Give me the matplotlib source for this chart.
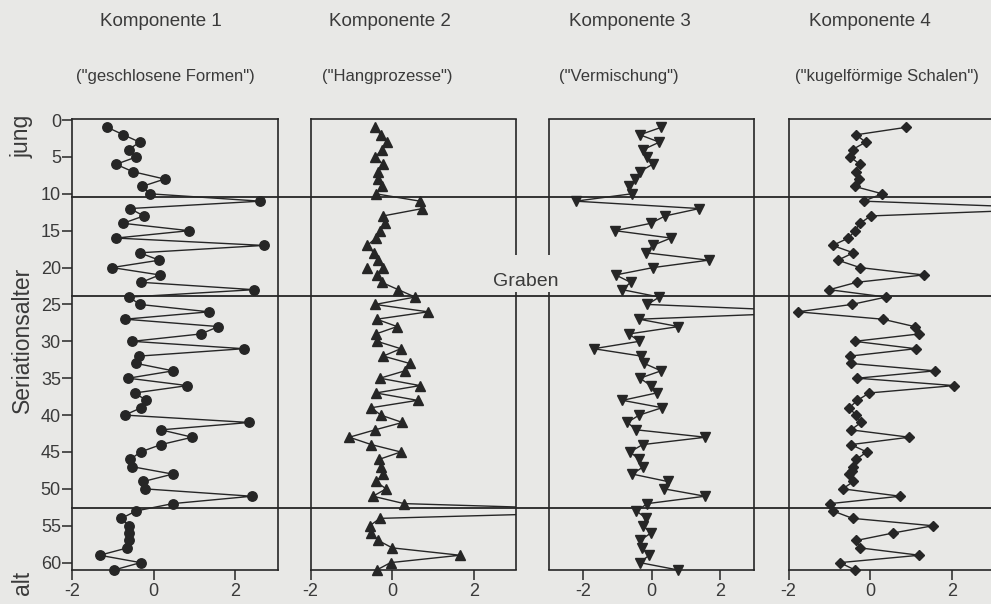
import numpy as np
import matplotlib
matplotlib.use('Agg')
from matplotlib import pyplot as plt
from matplotlib.transforms import blended_transform_factory

plt.rcParams['font.family'] = ['Liberation Sans', 'DejaVu Sans']
plt.rcParams['axes.unicode_minus'] = False

# seriation age (one sample per step)
age = np.arange(1, 62)

k1 = [-1.13, -0.74, -0.34, -0.61, -0.42, -0.92, -0.51, 0.27, -0.28, -0.09,
      2.62, -0.58, -0.24, -0.75, 0.87, -0.92, 2.70, -0.34, 0.14, -1.02,
      0.15, -0.30, 2.46, -0.60, -0.34, 1.36, -0.70, 1.59, 1.16, -0.52,
      2.21, -0.35, -0.42, 0.48, -0.62, 0.83, -0.46, -0.18, -0.30, -0.71,
      2.35, 0.18, 0.95, 0.18, -0.32, -0.57, -0.52, 0.47, -0.25, -0.22,
      2.41, 0.47, -0.43, -0.79, -0.60, -0.60, -0.60, -0.64, -1.32, -0.32,
      -0.97]

k2 = [-0.42, -0.28, -0.12, -0.24, -0.42, -0.22, -0.36, -0.34, -0.24, -0.40,
      0.68, 0.74, -0.22, -0.18, -0.30, -0.40, -0.61, -0.45, -0.34, -0.22,
      -0.38, -0.26, 0.15, 0.56, -0.42, 0.88, -0.38, 0.12, -0.40, -0.37,
      0.21, -0.22, 0.43, 0.31, -0.30, 0.68, -0.40, 0.62, -0.51, -0.28,
      0.25, -0.42, -1.05, -0.51, 0.21, -0.32, -0.28, -0.22, -0.40, -0.15,
      -0.47, 0.29, 6.3, -0.30, -0.55, -0.51, -0.34, 0.0, 1.66, -0.04,
      -0.38]
# single unconnected triangle near age 20
k2_extra_x = [-0.61]
k2_extra_age = [20]

k3 = [0.28, -0.34, 0.23, -0.24, -0.14, 0.03, -0.34, -0.48, -0.66, -0.58,
      -2.22, 1.40, 0.40, -0.02, -1.07, 0.57, 0.03, -0.16, 1.67, 0.05,
      -1.05, -0.61, -0.85, 0.23, -0.12, 5.1, -0.36, 0.79, -0.66, -0.36,
      -1.69, -0.30, -0.21, 0.28, -0.34, -0.02, 0.15, -0.85, 0.31, -0.36,
      -0.71, -0.44, 1.58, -0.26, -0.63, -0.36, -0.24, -0.56, 0.47, 0.37,
      1.57, -0.12, -0.44, -0.16, -0.24, -0.02, -0.34, -0.28, -0.07, -0.34,
      0.78]

age4 = np.insert(age.astype(float), 47, 47.6)
k4 = [0.87, -0.34, -0.11, -0.43, -0.49, -0.25, -0.35, -0.26, -0.38, 0.30,
      -0.16, 4.8, 0.02, -0.25, -0.37, -0.53, -0.92, -0.41, -0.79, -0.25,
      1.31, -0.33, -1.00, 0.39, -0.45, -1.77, 0.31, 1.09, 1.20, -0.38,
      1.12, -0.49, -0.47, 1.59, -0.31, 2.06, -0.02, -0.31, -0.51, -0.35,
      -0.22, -0.47, 0.96, -0.47, -0.08, -0.34, -0.41, -0.45, -0.51, -0.41,
      -0.67, 0.74, -0.98, -0.91, -0.43, 1.54, 0.55, -0.34, -0.25, 1.21,
      -0.74, -0.37]

boundaries = [10.5, 23.9, 52.6]

titles = ['Komponente 1', 'Komponente 2', 'Komponente 3', 'Komponente 4']
subtitles = ['("geschlosene Formen")', '("Hangprozesse")', '("Vermischung")',
             '("kugelförmige Schalen")']

bg = '#e8e8e6'
ink = '#262626'
txt = '#3a3a3a'
W, H = 991, 604
ylim = (61.0, -0.14)

fig = plt.figure(figsize=(W / 100, H / 100), dpi=100, facecolor=bg)


def px_box(x0, y0, x1, y1):
    return [x0 / W, 1 - y1 / H, (x1 - x0) / W, (y1 - y0) / H]


ax1 = fig.add_axes(px_box(72, 119, 278, 570))
ax2 = fig.add_axes(px_box(310.5, 119, 516, 570))
ax3 = fig.add_axes(px_box(549, 119, 754, 570))
ax4 = fig.add_axes(px_box(788.5, 119, 994.5, 570))
axes = [ax1, ax2, ax3, ax4]
xlims = [(-2, 3.05), (-2, 3.03), (-3, 3), (-2, 3.05)]

for ax, xl in zip(axes, xlims):
    ax.set_facecolor('none')
    ax.set_xlim(xl)
    ax.set_ylim(ylim)
    ax.set_xticks([-2, 0, 2])
    ax.tick_params(axis='x', direction='out', length=7, width=1.1, pad=2,
                   labelsize=13, labelcolor=txt, color=ink)
    for s in ax.spines.values():
        s.set_color(ink)
        s.set_linewidth(1.2)
    if ax is ax1:
        ax.set_yticks(np.arange(0, 61, 5))
        ax.tick_params(axis='y', direction='out', length=7, width=1.1, pad=1,
                       labelsize=13, labelcolor=txt, color=ink)
    else:
        ax.set_yticks([])

ax4.spines['right'].set_visible(False)


def draw_series(ax, x, y, marker, ms):
    x = np.asarray(x, dtype=float)
    y = np.asarray(y, dtype=float)
    ax.plot(x, y, '-', color=ink, lw=1.0, zorder=3)
    inside = x <= ax.get_xlim()[1]
    ax.plot(x[inside], y[inside], ls='none', marker=marker, ms=ms,
            color=ink, mec=ink, clip_on=False, zorder=4)


draw_series(ax1, k1, age, 'o', 6.8)
draw_series(ax2, k2, age, '^', 6.8)
ax2.plot(k2_extra_x, k2_extra_age, ls='none', marker='^', ms=6.8, color=ink,
         clip_on=False, zorder=4)
draw_series(ax3, k3, age, 'v', 6.8)
draw_series(ax4, k4, age4, 'D', 5.0)

# broken frame around the "Graben" label
gap = (18.3, 23.3)
for ax, side, xa in [(ax2, 'right', 1), (ax3, 'left', 0)]:
    ax.spines[side].set_visible(False)
    tr = blended_transform_factory(ax.transAxes, ax.transData)
    for y0, y1 in [(ylim[1], gap[0]), (gap[1], ylim[0])]:
        ax.plot([xa, xa], [y0, y1], color=ink, lw=1.2, transform=tr,
                clip_on=False, solid_capstyle='butt')

# horizontal boundaries across all panels
tr1 = blended_transform_factory(ax1.transAxes, ax1.transData)
for b in boundaries:
    ax1.plot([0, 5], [b, b], color=ink, lw=1.3, transform=tr1, clip_on=False,
             zorder=2)

fig.text(526 / W, 1 - 281 / H, 'Graben', ha='center', va='center',
         fontsize=14, color=txt)

title_x = [161, 390, 630, 870]
sub_x = [165, 387, 619, 887]
for t, tx in zip(titles, title_x):
    fig.text(tx / W, 1 - 22 / H, t, ha='center', va='center', fontsize=13.5,
             color=txt)
for t, tx in zip(subtitles, sub_x):
    fig.text(tx / W, 1 - 77 / H, t, ha='center', va='center', fontsize=12,
             color=txt)

fig.text(22 / W, 1 - 340 / H, 'Seriationsalter', rotation=90, ha='center',
         va='center', fontsize=16.5, color=txt)
fig.text(22 / W, 1 - 136 / H, 'jung', rotation=90, ha='center',
         va='center', fontsize=16.5, color=txt)
fig.text(22 / W, 1 - 583 / H, 'alt', rotation=90, ha='center',
         va='center', fontsize=16.5, color=txt)

fig.savefig('out.png', dpi=100, facecolor=bg)
